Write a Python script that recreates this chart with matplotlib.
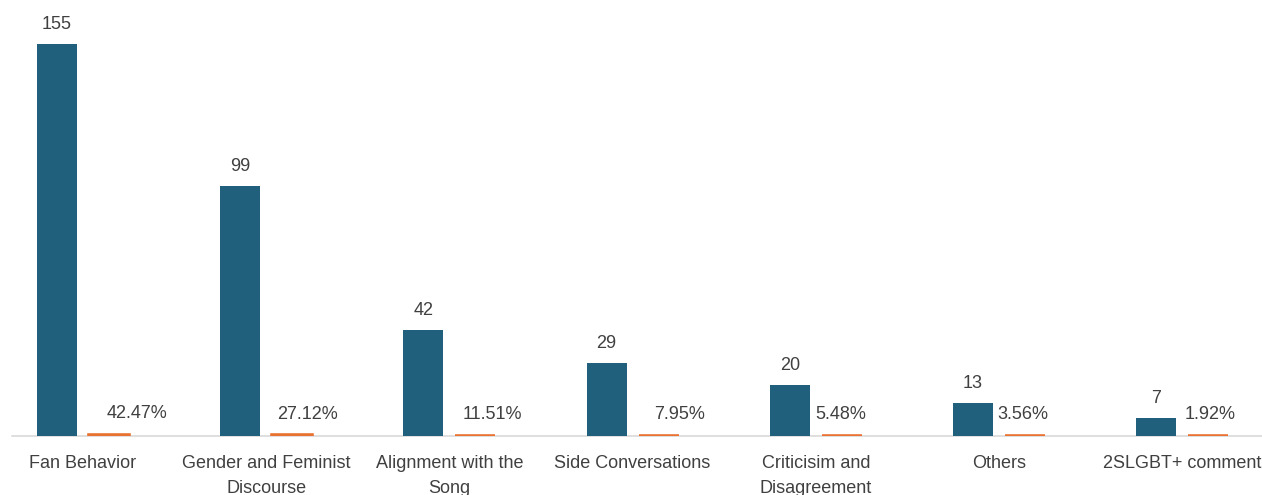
import matplotlib.pyplot as plt
import numpy as np

# Comment categories, counts and share of all comments
categories = [
    "Fan Behavior",
    "Gender and Feminist\nDiscourse",
    "Alignment with the\nSong",
    "Side Conversations",
    "Criticisim and\nDisagreement",
    "Others",
    "2SLGBT+ comment",
]
counts = [155, 99, 42, 29, 20, 13, 7]
shares = [0.4247, 0.2712, 0.1151, 0.0795, 0.0548, 0.0356, 0.0192]

# small horizontal nudges (pixels) for the percentage labels
pct_nudge = [28, 15, 17, 21, -1, -2, 2]

plt.rcParams['font.family'] = ['Liberation Sans', 'DejaVu Sans']

W, H = 1262, 495
fig = plt.figure(figsize=(W / 100, H / 100), dpi=100)
ax = fig.add_axes([12 / W, 59 / H, 1250 / W, 436 / H])

x = np.arange(len(categories))
bw = 0.218
off = 0.142
teal = '#21607D'
orange = '#E97132'
txt = '#404040'
fs = 13

b1 = ax.bar(x - off, counts, bw, color=teal, zorder=3)
# the share bars are tiny on the count scale; a thick outline (clipped at the
# baseline) keeps them visible as a thin line
b2 = ax.bar(x + off, shares, bw, color=orange, edgecolor=orange,
            linewidth=2.6, zorder=3)

for rect, v in zip(b1, counts):
    ax.annotate(str(v), (rect.get_x() + rect.get_width() / 2, rect.get_height()),
                xytext=(0, 8), textcoords='offset points',
                ha='center', va='bottom', fontsize=fs, color=txt)

for rect, v, dx in zip(b2, shares, pct_nudge):
    ax.annotate(f"{v * 100:.2f}%", (rect.get_x() + rect.get_width() / 2, rect.get_height()),
                xytext=(dx * 0.72, 9), textcoords='offset points',
                ha='center', va='bottom', fontsize=fs, color=txt)

ax.set_xlim((12 - 83) / 183.2, (1262 - 83) / 183.2)
ax.set_ylim(0, 155 * 436 / 392)

ax.set_xticks(x)
ax.set_xticklabels(categories, fontsize=fs, color=txt, linespacing=1.6)
ax.tick_params(axis='x', length=0, pad=14)
ax.set_yticks([])

for s in ['top', 'left', 'right']:
    ax.spines[s].set_visible(False)
ax.spines['bottom'].set_color('#D9D9D9')
ax.spines['bottom'].set_linewidth(1.2)
ax.spines['bottom'].set_zorder(1)

fig.savefig('out.png', dpi=100)
